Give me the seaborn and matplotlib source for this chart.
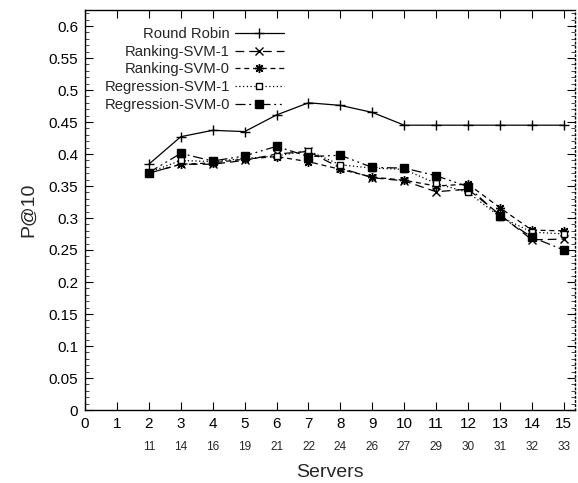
import numpy as np
import pandas as pd
import matplotlib
matplotlib.use("Agg")
import matplotlib.pyplot as plt
import seaborn as sns
from matplotlib.ticker import MultipleLocator, FuncFormatter

servers = [2, 3, 4, 5, 6, 7, 8, 9, 10, 11, 12, 13, 14, 15]
second_labels = ["11", "14", "16", "19", "21", "22", "24", "26", "27", "29", "30", "31", "32", "33"]

round_robin = [0.384, 0.427, 0.437, 0.435, 0.461, 0.480, 0.476, 0.465, 0.445, 0.445, 0.445, 0.445, 0.445, 0.445]
ranking_svm_1 = [0.370, 0.384, 0.384, 0.390, 0.400, 0.404, 0.378, 0.363, 0.358, 0.341, 0.345, 0.305, 0.266, 0.267]
ranking_svm_0 = [0.370, 0.384, 0.386, 0.392, 0.396, 0.388, 0.376, 0.364, 0.359, 0.350, 0.353, 0.316, 0.281, 0.280]
regression_svm_1 = [0.371, 0.390, 0.388, 0.393, 0.397, 0.405, 0.383, 0.378, 0.376, 0.354, 0.340, 0.302, 0.278, 0.275]
regression_svm_0 = [0.371, 0.401, 0.389, 0.397, 0.412, 0.396, 0.398, 0.379, 0.378, 0.366, 0.349, 0.303, 0.270, 0.250]

series_names = ["Round Robin", "Ranking-SVM-1", "Ranking-SVM-0", "Regression-SVM-1", "Regression-SVM-0"]
series_values = [round_robin, ranking_svm_1, ranking_svm_0, regression_svm_1, regression_svm_0]

sns.set_style("ticks")
plt.rcParams['font.family'] = ['Liberation Sans', 'DejaVu Sans']

fig = plt.figure(figsize=(5.78, 4.83), dpi=100)
ax = fig.add_axes([85/578, 1-410/483, (575-85)/578, 400/483])

styles = [
    dict(ls='-', marker='+', ms=7, mfc='black', mew=1.0),
    dict(ls=(0, (7, 4)), marker='x', ms=5.5, mfc='black', mew=1.0),
    dict(ls=(0, (4, 3)), marker=(8, 2, 0), ms=6.5, mfc='black', mew=1.0),
    dict(ls=(0, (1, 2)), marker='s', ms=5, mfc='white', mew=1.0),
    dict(ls=(0, (8, 3, 1.5, 3, 1.5, 3)), marker='s', ms=6, mfc='black', mew=1.0),
]

for name, vals, st in zip(series_names, series_values, styles):
    df = pd.DataFrame({"Servers": servers, "P@10": vals})
    sns.lineplot(data=df, x="Servers", y="P@10", ax=ax, color='black', lw=0.9,
                 linestyle=st['ls'], marker=st['marker'], markersize=st['ms'],
                 markerfacecolor=st['mfc'], markeredgecolor='black',
                 markeredgewidth=st['mew'], label=name)

ax.set_xlim(0, 15.35)
ax.set_ylim(0, 0.625)
ax.set_xticks(range(0, 16))
ax.yaxis.set_major_locator(MultipleLocator(0.05))
ax.yaxis.set_minor_locator(MultipleLocator(0.01))
ax.yaxis.set_major_formatter(FuncFormatter(lambda v, p: f"{round(v, 2):g}"))
ax.tick_params(axis='both', which='major', direction='in', length=6, width=0.8,
               top=True, right=True, labelsize=11, pad=5, colors='black')
ax.tick_params(axis='y', which='minor', direction='in', length=3, width=0.6, right=True)
for s in ax.spines.values():
    s.set_linewidth(1.0)
    s.set_color('black')
ax.spines['right'].set_linestyle((0, (1, 2)))

ax.set_xlabel("Servers", fontsize=14, labelpad=24)
ax.set_ylabel("P@10", fontsize=14, labelpad=8)

sec = ax.secondary_xaxis('bottom')
sec.set_xticks(servers)
sec.set_xticklabels(second_labels)
sec.tick_params(length=0, pad=22, labelsize=8.5)
sec.spines['bottom'].set_visible(False)

leg = ax.legend(loc='upper right', bbox_to_anchor=(284/578, 1-27/483),
                bbox_transform=fig.transFigure, frameon=False, markerfirst=False,
                fontsize=10.7, handlelength=3.3, handletextpad=0.35,
                labelspacing=0.25, borderpad=0, borderaxespad=0)

fig.savefig("out.png", dpi=100)
